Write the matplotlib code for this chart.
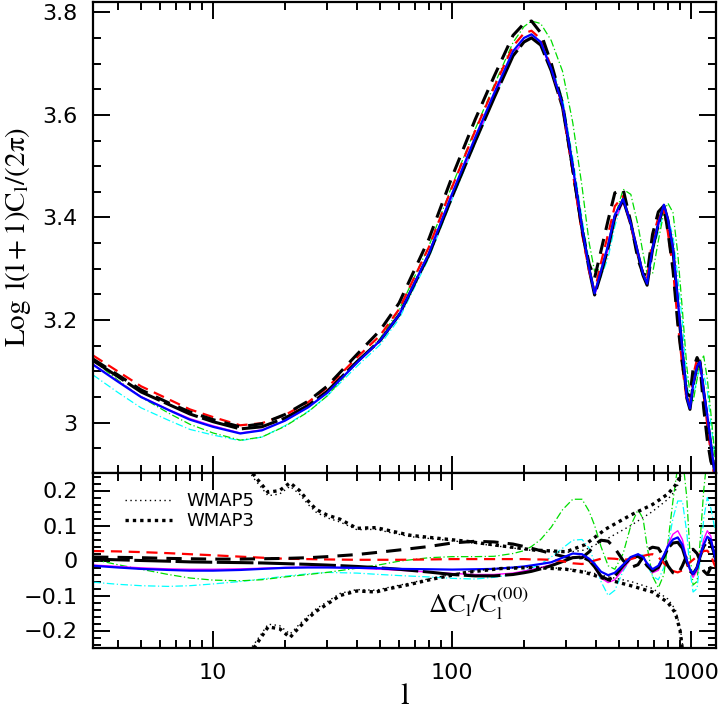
import numpy as np
import matplotlib
matplotlib.use("Agg")
import matplotlib.pyplot as plt
from matplotlib.ticker import MultipleLocator, FuncFormatter, LogLocator, NullFormatter

plt.rcParams['font.family'] = ['DejaVu Sans']
plt.rcParams['mathtext.fontset'] = 'stix'

# multipole grid shared by all model curves
ell = [3.15, 4, 5, 6.5, 8, 10, 13, 16, 20, 25, 30, 40, 50, 60, 80, 100, 125, 150, 180, 200,
       215, 235, 260, 290, 320, 350, 375, 395, 420, 450, 480, 520, 560, 600, 630, 655, 690,
       730, 770, 800, 840, 880, 920, 960, 990, 1020, 1060, 1090, 1130, 1170, 1210, 1250, 1290]

# top panel: log l(l+1)C_l/2pi
top_blue = [3.113, 3.080, 3.050, 3.025, 3.006, 2.992, 2.979, 2.985, 3.004, 3.030, 3.058, 3.117,
            3.160, 3.210, 3.330, 3.446, 3.556, 3.642, 3.724, 3.750, 3.757, 3.742, 3.690, 3.620,
            3.500, 3.380, 3.300, 3.252, 3.296, 3.347, 3.405, 3.436, 3.388, 3.331, 3.290, 3.271,
            3.340, 3.389, 3.425, 3.397, 3.340, 3.239, 3.141, 3.050, 3.028, 3.074, 3.110, 3.119,
            3.061, 3.013, 2.960, 2.910, 2.860]
top_magenta = [3.114, 3.081, 3.051, 3.026, 3.008, 2.994, 2.980, 2.986, 3.004, 3.030, 3.058, 3.116,
               3.159, 3.208, 3.327, 3.441, 3.549, 3.635, 3.717, 3.744, 3.752, 3.738, 3.687, 3.616,
               3.496, 3.377, 3.296, 3.248, 3.288, 3.338, 3.396, 3.430, 3.386, 3.331, 3.290, 3.269,
               3.336, 3.383, 3.423, 3.399, 3.347, 3.247, 3.148, 3.052, 3.026, 3.070, 3.106, 3.119,
               3.068, 3.020, 2.964, 2.910, 2.856]
top_black = [3.121, 3.090, 3.060, 3.036, 3.017, 3.002, 2.988, 2.992, 3.009, 3.034, 3.061, 3.119,
             3.160, 3.210, 3.327, 3.440, 3.548, 3.633, 3.715, 3.742, 3.750, 3.736, 3.686, 3.615,
             3.495, 3.377, 3.298, 3.249, 3.290, 3.341, 3.401, 3.435, 3.387, 3.328, 3.287, 3.268,
             3.338, 3.387, 3.423, 3.395, 3.336, 3.233, 3.137, 3.048, 3.026, 3.074, 3.110, 3.119,
             3.059, 3.007, 2.956, 2.910, 2.864]
top_black_dash = [3.124, 3.093, 3.064, 3.039, 3.021, 3.006, 2.992, 2.998, 3.016, 3.042, 3.071, 3.133,
                  3.180, 3.233, 3.358, 3.479, 3.591, 3.675, 3.755, 3.778, 3.783, 3.760, 3.701, 3.622,
                  3.494, 3.376, 3.309, 3.282, 3.335, 3.395, 3.448, 3.455, 3.390, 3.318, 3.290, 3.287,
                  3.367, 3.411, 3.423, 3.373, 3.299, 3.193, 3.115, 3.057, 3.052, 3.105, 3.127, 3.115,
                  3.028, 2.966, 2.925, 2.906, 2.882]
top_red = [3.131, 3.100, 3.071, 3.046, 3.026, 3.011, 2.995, 2.999, 3.015, 3.040, 3.068, 3.127,
           3.170, 3.221, 3.342, 3.459, 3.569, 3.654, 3.734, 3.759, 3.764, 3.748, 3.693, 3.616,
           3.488, 3.368, 3.295, 3.256, 3.312, 3.368, 3.422, 3.442, 3.385, 3.328, 3.291, 3.281,
           3.359, 3.400, 3.415, 3.371, 3.301, 3.196, 3.109, 3.043, 3.037, 3.092, 3.124, 3.123,
           3.053, 2.996, 2.940, 2.897, 2.856]
top_green = [3.121, 3.083, 3.050, 3.019, 2.997, 2.980, 2.966, 2.972, 2.993, 3.021, 3.052, 3.117,
             3.164, 3.220, 3.344, 3.462, 3.572, 3.658, 3.741, 3.772, 3.783, 3.778, 3.745, 3.685,
             3.585, 3.460, 3.350, 3.295, 3.300, 3.340, 3.400, 3.455, 3.445, 3.385, 3.330, 3.290,
             3.290, 3.355, 3.410, 3.428, 3.410, 3.330, 3.220, 3.110, 3.055, 3.040, 3.085, 3.120,
             3.130, 3.085, 3.020, 2.950, 2.880]
top_cyan = [3.093, 3.059, 3.029, 3.005, 2.987, 2.976, 2.965, 2.972, 2.994, 3.022, 3.052, 3.110,
            3.152, 3.202, 3.321, 3.435, 3.544, 3.632, 3.715, 3.744, 3.754, 3.742, 3.697, 3.632,
            3.516, 3.398, 3.313, 3.254, 3.284, 3.322, 3.383, 3.436, 3.386, 3.332, 3.292, 3.271,
            3.331, 3.372, 3.410, 3.397, 3.366, 3.284, 3.195, 3.085, 3.026, 3.052, 3.084, 3.115,
            3.094, 3.062, 2.999, 2.945, 2.890]

# bottom panel: relative differences dC_l / C_l^(00)
res_blue = [-0.015, -0.020, -0.024, -0.027, -0.029, -0.029, -0.027, -0.024, -0.021, -0.020, -0.020,
            -0.021, -0.022, -0.024, -0.025, -0.026, -0.025, -0.024, -0.020, -0.017, -0.014, -0.010,
            -0.005, 0.008, 0.020, 0.018, 0.005, -0.010, -0.032, -0.042, -0.035, -0.012, 0.010,
            0.018, 0.010, -0.008, -0.025, -0.015, 0.015, 0.040, 0.060, 0.066, 0.045, 0.000, -0.025,
            -0.039, -0.020, 0.010, 0.045, 0.068, 0.060, 0.020, -0.020]
res_magenta = [-0.013, -0.017, -0.021, -0.024, -0.025, -0.025, -0.024, -0.022, -0.020, -0.019, -0.019,
               -0.022, -0.025, -0.028, -0.033, -0.037, -0.040, -0.040, -0.036, -0.030, -0.026, -0.020,
               -0.012, -0.002, 0.010, 0.012, 0.000, -0.020, -0.050, -0.063, -0.055, -0.025, 0.005,
               0.018, 0.010, -0.012, -0.035, -0.028, 0.010, 0.045, 0.075, 0.085, 0.060, 0.005, -0.030,
               -0.048, -0.030, 0.010, 0.060, 0.085, 0.070, 0.020, -0.030]
res_black = [0.004, 0.002, 0.000, -0.002, -0.004, -0.005, -0.006, -0.007, -0.009, -0.011, -0.013,
             -0.017, -0.021, -0.025, -0.033, -0.040, -0.044, -0.044, -0.040, -0.035, -0.031, -0.024,
             -0.015, -0.003, 0.008, 0.010, 0.000, -0.018, -0.045, -0.055, -0.045, -0.015, 0.008,
             0.012, 0.002, -0.015, -0.030, -0.020, 0.010, 0.035, 0.050, 0.052, 0.035, -0.005, -0.030,
             -0.038, -0.020, 0.010, 0.040, 0.055, 0.050, 0.020, -0.010]
res_black_dash = [0.010, 0.009, 0.008, 0.006, 0.005, 0.004, 0.004, 0.005, 0.006, 0.008, 0.011,
                  0.017, 0.024, 0.030, 0.040, 0.050, 0.055, 0.053, 0.047, 0.040, 0.035, 0.028,
                  0.020, 0.012, 0.006, 0.008, 0.025, 0.045, 0.058, 0.055, 0.035, 0.000, -0.020,
                  -0.012, 0.010, 0.030, 0.038, 0.035, 0.010, -0.015, -0.035, -0.040, -0.015, 0.015,
                  0.030, 0.032, 0.020, 0.000, -0.030, -0.040, -0.020, 0.010, 0.030]
res_red = [0.027, 0.026, 0.024, 0.021, 0.018, 0.015, 0.011, 0.008, 0.005, 0.004, 0.003,
           0.002, 0.002, 0.002, 0.003, 0.004, 0.004, 0.004, 0.004, 0.004, 0.003, 0.003,
           0.002, -0.002, -0.008, -0.010, -0.006, 0.000, 0.005, 0.006, 0.005, 0.002, 0.004,
           0.010, 0.013, 0.016, 0.018, 0.010, -0.008, -0.020, -0.030, -0.034, -0.028, -0.015,
           -0.005, 0.002, 0.012, 0.020, 0.027, 0.028, 0.015, -0.010, -0.030]
res_green = [0.003, -0.012, -0.025, -0.040, -0.050, -0.056, -0.058, -0.055, -0.047, -0.040, -0.034,
             -0.022, -0.012, -0.002, 0.008, 0.011, 0.011, 0.012, 0.020, 0.028, 0.040, 0.060,
             0.095, 0.145, 0.175, 0.175, 0.140, 0.100, 0.040, -0.015, -0.025, 0.020, 0.100,
             0.145, 0.120, 0.040, -0.045, -0.078, -0.040, 0.050, 0.170, 0.270, 0.300, 0.180,
             0.020, -0.070, -0.060, 0.050, 0.200, 0.300, 0.350, 0.300, 0.200]
res_cyan = [-0.062, -0.068, -0.072, -0.074, -0.072, -0.067, -0.060, -0.053, -0.045, -0.038, -0.034,
            -0.036, -0.040, -0.043, -0.047, -0.051, -0.053, -0.048, -0.040, -0.030, -0.022, -0.010,
            0.010, 0.035, 0.058, 0.060, 0.035, -0.005, -0.060, -0.100, -0.085, -0.030, 0.005,
            0.020, 0.015, -0.010, -0.045, -0.055, -0.020, 0.040, 0.120, 0.170, 0.170, 0.080,
            -0.030, -0.090, -0.080, 0.000, 0.120, 0.180, 0.150, 0.100, 0.050]

# WMAP error envelopes
ell_wmap = [13, 15, 17, 19, 21, 23, 25, 27, 30, 34, 40, 48, 55, 67, 83, 115, 160, 220, 300,
            360, 440, 560, 690, 800, 860, 900, 930]
wmap3_hi = [0.300, 0.240, 0.195, 0.200, 0.222, 0.200, 0.170, 0.146, 0.130, 0.118, 0.092, 0.094,
            0.085, 0.072, 0.065, 0.055, 0.042, 0.030, 0.025, 0.045, 0.090, 0.130, 0.160, 0.190,
            0.215, 0.240, 0.320]
wmap3_lo = [-0.300, -0.245, -0.190, -0.195, -0.220, -0.190, -0.165, -0.145, -0.125, -0.100, -0.087,
            -0.090, -0.080, -0.068, -0.053, -0.034, -0.023, -0.020, -0.025, -0.034, -0.053, -0.072,
            -0.090, -0.120, -0.150, -0.200, -0.280]
wmap5_hi = [0.290, 0.230, 0.185, 0.190, 0.212, 0.190, 0.160, 0.138, 0.122, 0.110, 0.088, 0.089,
            0.080, 0.068, 0.062, 0.052, 0.040, 0.028, 0.023, 0.030, 0.060, 0.100, 0.140, 0.175,
            0.200, 0.230, 0.300]
wmap5_lo = [-0.290, -0.235, -0.182, -0.186, -0.210, -0.182, -0.158, -0.138, -0.118, -0.094, -0.083,
            -0.085, -0.076, -0.064, -0.050, -0.032, -0.022, -0.019, -0.023, -0.030, -0.045, -0.060,
            -0.080, -0.110, -0.140, -0.190, -0.260]

styles = {
    'black': dict(color='black', lw=2.2, ls=(0, (12, 1.5))),
    'black_dash': dict(color='black', lw=2.2, ls=(0, (5, 3))),
    'red': dict(color='red', lw=1.6, ls=(0, (5, 3))),
    'blue': dict(color='blue', lw=1.6, ls='-'),
    'magenta': dict(color='magenta', lw=1.0, ls='-'),
    'green': dict(color='#00dd00', lw=0.9, ls=(0, (6, 2, 1, 2))),
    'cyan': dict(color='cyan', lw=0.9, ls=(0, (6, 2, 1, 2))),
}
top_series = [('cyan', top_cyan), ('green', top_green), ('magenta', top_magenta),
              ('black', top_black), ('red', top_red), ('black_dash', top_black_dash),
              ('blue', top_blue)]
res_series = [('cyan', res_cyan), ('green', res_green), ('magenta', res_magenta),
              ('black', res_black), ('red', res_red), ('black_dash', res_black_dash),
              ('blue', res_blue)]

W, H = 721, 709
fig = plt.figure(figsize=(W / 100, H / 100), dpi=100)
x0, x1 = 93, 716
ax1 = fig.add_axes([x0 / W, 1 - 473 / H, (x1 - x0) / W, (473 - 2) / H])
ax2 = fig.add_axes([x0 / W, 1 - 648 / H, (x1 - x0) / W, (648 - 473) / H])

for name, vals in top_series:
    ax1.plot(ell, vals, **styles[name])
for name, vals in res_series:
    ax2.plot(ell, vals, **styles[name])

ax2.plot(ell_wmap, wmap5_hi, color='black', lw=1.0, ls=(0, (1, 2.5)), label='WMAP5')
ax2.plot(ell_wmap, wmap5_lo, color='black', lw=1.0, ls=(0, (1, 2.5)))
ax2.plot(ell_wmap, wmap3_hi, color='black', lw=2.4, ls=(0, (1, 1.2)), label='WMAP3')
ax2.plot(ell_wmap, wmap3_lo, color='black', lw=2.4, ls=(0, (1, 1.2)))

for ax in (ax1, ax2):
    ax.set_xscale('log')
    ax.set_xlim(3.147, 1272)
    ax.xaxis.set_major_locator(LogLocator(base=10, numticks=10))
    ax.xaxis.set_minor_locator(LogLocator(base=10, subs=np.arange(2, 10), numticks=20))
    ax.xaxis.set_minor_formatter(NullFormatter())
    ax.tick_params(which='both', direction='in', top=True, right=True, width=1.4)
    ax.tick_params(which='major', length=12, labelsize=16, pad=11)
    ax.tick_params(which='minor', length=6)
    for sp in ax.spines.values():
        sp.set_linewidth(1.6)

ax1.set_ylim(2.902, 3.82)
ax1.yaxis.set_major_locator(MultipleLocator(0.2))
ax1.yaxis.set_minor_locator(MultipleLocator(0.05))
ax1.yaxis.set_major_formatter(FuncFormatter(lambda v, p: '%g' % round(v, 2)))
ax1.tick_params(axis='x', labelbottom=False)
ax1.set_ylabel(r'$\mathrm{Log\ \,l(l+1)C_l/(2\pi)}$', fontsize=21)
ax1.yaxis.set_label_coords(-0.097, 0.5)

ax2.set_ylim(-0.25, 0.25)
ax2.yaxis.set_major_locator(MultipleLocator(0.1))
ax2.yaxis.set_minor_locator(MultipleLocator(0.02))
ax2.yaxis.set_major_formatter(FuncFormatter(
    lambda v, p: ('%g' % round(v, 2)).replace('-', '\u2212') if abs(v) < 0.21 else ''))
ax2.xaxis.set_major_formatter(FuncFormatter(lambda v, p: '%d' % round(v)))
ax2.set_xlabel(r'$\mathrm{l}$', fontsize=22)
ax2.xaxis.set_label_coords(0.5, -0.19)
ax2.text(0.538, 0.2, r'$\Delta \mathrm{C_l/C_l^{(00)}}$', transform=ax2.transAxes, fontsize=19)
ax2.legend(loc='upper left', bbox_to_anchor=(0.04, 0.93), frameon=False, fontsize=13,
           handlelength=2.6, handletextpad=0.8, labelspacing=0.1, borderaxespad=0)

fig.savefig('out.png', dpi=100)
